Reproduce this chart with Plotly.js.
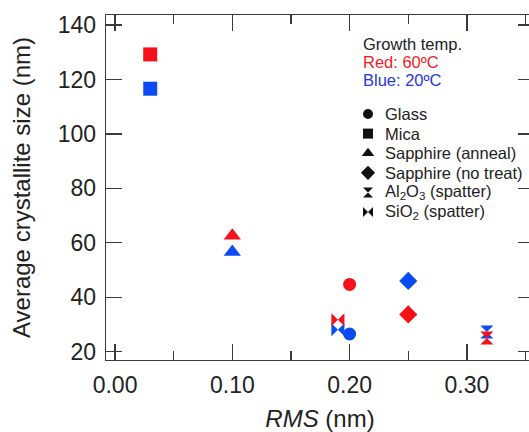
<!DOCTYPE html>
<html>
<head>
<meta charset="utf-8">
<script src="https://cdn.plot.ly/plotly-3.0.1.min.js"></script>
<style>
  html, body { margin: 0; padding: 0; overflow: hidden; background: #fff; }
  #chart { width: 545px; height: 432px; }
</style>
</head>
<body>
<div id="chart"></div>
<script>
// ---- data ----
const substrates = ['SiO2 (spatter)', 'Glass', 'Mica', 'Sapphire (anneal)', 'Sapphire (no treat)', 'Al2O3 (spatter)'];
const rms        = [0.190, 0.200, 0.030, 0.100, 0.250, 0.317];
const size60C    = [31.7, 44.7, 129.2, 62.6, 33.7, 25.0];   // red: growth temp 60 ºC
const size20C    = [28.1, 26.5, 116.6, 56.6, 46.0, 27.2];   // blue: growth temp 20 ºC

const legendLabels = ['Glass', 'Mica', 'Sapphire (anneal)', 'Sapphire (no treat)',
                      'Al<sub>2</sub>O<sub>3</sub> (spatter)', 'SiO<sub>2</sub> (spatter)'];
const legendKeys   = ['Glass', 'Mica', 'Sapphire (anneal)', 'Sapphire (no treat)', 'Al2O3 (spatter)', 'SiO2 (spatter)'];
const xTickVals = [0.0, 0.1, 0.2, 0.3];
const yTickVals = [20, 40, 60, 80, 100, 120, 140];

// ---- styles ----
const symbolOf = {
  'Glass': 'circle', 'Mica': 'square', 'Sapphire (anneal)': 'triangle-up',
  'Sapphire (no treat)': 'diamond', 'Al2O3 (spatter)': 'hourglass', 'SiO2 (spatter)': 'bowtie'
};
const markerSize = { 'circle': 13, 'square': 14, 'triangle-up': 15, 'diamond': 14, 'hourglass': 13, 'bowtie': 13 };
const legendSize = { 'circle': 10, 'square': 10, 'triangle-up': 11, 'diamond': 11, 'hourglass': 10, 'bowtie': 10 };
const RED = '#f5101a', BLUE = '#0a4cf2';
const FONT = 'Liberation Sans, Arial, Helvetica, sans-serif';
const TXT = '#222222';

function series(vals, color, name) {
  return {
    type: 'scatter', mode: 'markers', name: name, showlegend: false,
    x: rms, y: vals, hoverinfo: 'x+y',
    marker: {
      color: color, opacity: 1,
      symbol: substrates.map(s => symbolOf[s]),
      size: substrates.map(s => markerSize[symbolOf[s]]),
      line: { width: 0 }
    }
  };
}

const traces = [series(size20C, BLUE, '20 ºC'), series(size60C, RED, '60 ºC')];

// legend glyphs on an overlay pixel-like axis pair
const legX = 368, legY0 = 114, legStep = 19.6, textX = 383;
traces.push({
  type: 'scatter', mode: 'markers', xaxis: 'x2', yaxis: 'y2', showlegend: false, hoverinfo: 'skip',
  x: legendKeys.map(() => legX),
  y: legendKeys.map((k, i) => legY0 + i * legStep),
  marker: {
    color: '#111111', opacity: 1,
    symbol: legendKeys.map(k => symbolOf[k]),
    size: legendKeys.map(k => legendSize[symbolOf[k]]),
    line: { width: 0 }
  }
});

const annotations = [
  { text: 'Growth temp.', x: 361, y: 43.5, color: TXT },
  { text: 'Red: 60ºC', x: 361, y: 61.8, color: '#ee1d25' },
  { text: 'Blue: 20ºC', x: 361, y: 80.1, color: '#2a36d8' }
].map(a => ({
  xref: 'x2', yref: 'y2', x: a.x, y: a.y, text: a.text, showarrow: false,
  xanchor: 'left', yanchor: 'middle', font: { family: FONT, size: 16.5, color: a.color }
}));
legendLabels.forEach((lab, i) => {
  annotations.push({
    xref: 'x2', yref: 'y2', x: textX, y: legY0 + i * legStep, text: lab, showarrow: false,
    xanchor: 'left', yanchor: 'middle', font: { family: FONT, size: 16.5, color: TXT }
  });
});

const axisCommon = {
  showline: true, linecolor: '#3a3a3a', linewidth: 1.3, mirror: 'ticks',
  ticks: 'inside', tickcolor: '#3a3a3a', tickwidth: 1.3, ticklen: 16,
  showgrid: false, zeroline: false,
  tickfont: { family: FONT, size: 23, color: TXT }
};

const layout = {
  width: 545, height: 432,
  margin: { l: 106, r: 11, t: 15, b: 72 },
  paper_bgcolor: '#ffffff', plot_bgcolor: '#ffffff',
  showlegend: false,
  xaxis: Object.assign({}, axisCommon, {
    range: [-0.0077, 0.3572],
    tickvals: xTickVals, ticktext: xTickVals.map(v => v.toFixed(2)),
    ticklabelstandoff: 4,
    minor: { dtick: 0.05, tick0: 0, ticks: 'inside', ticklen: 9, tickwidth: 1.3, tickcolor: '#3a3a3a', showgrid: false },
    title: { text: '<i>RMS</i> (nm)', font: { family: FONT, size: 24, color: TXT }, standoff: 14 }
  }),
  yaxis: Object.assign({}, axisCommon, {
    range: [16.95, 143.67],
    tickvals: yTickVals,
    ticklabelstandoff: 4,
    title: { text: 'Average crystallite size (nm)', font: { family: FONT, size: 24, color: TXT }, standoff: 20 }
  }),
  xaxis2: { overlaying: 'x', range: [106, 534], visible: false, fixedrange: true },
  yaxis2: { overlaying: 'y', range: [360, 15], visible: false, fixedrange: true },
  annotations: annotations
};

Plotly.newPlot('chart', traces, layout, { displayModeBar: false, staticPlot: true });
</script>
</body>
</html>
